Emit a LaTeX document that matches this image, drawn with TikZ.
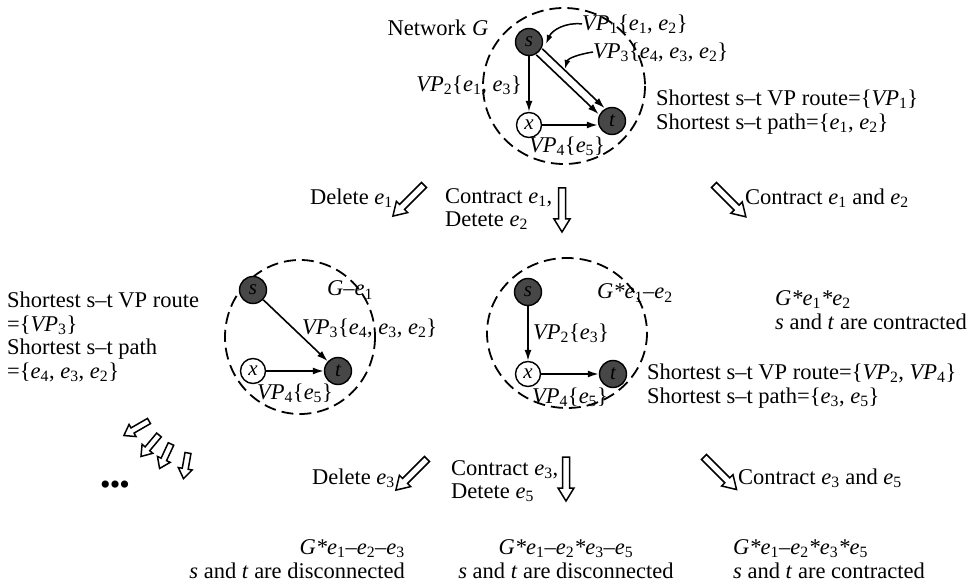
\documentclass[tikz,border=0pt]{standalone}
\usepackage{fontspec}
\setmainfont{Liberation Serif}
\usetikzlibrary{arrows.meta}
\newcommand\ee[1]{\textit{e}\textsubscript{#1}}
\newcommand\VP[1]{\textit{VP}\textsubscript{#1}}
\newcommand\lb{\textbraceleft}
\newcommand\rb{\textbraceright}
\tikzset{
  txt/.style={font=\fontsize{22.5}{23.5}\selectfont, inner sep=0pt},
  vtx/.style={circle, draw, line width=1.4pt, minimum size=25pt, inner sep=0pt, fill=white, font=\fontsize{21}{21}\selectfont\itshape},
  term/.style={vtx, fill=black!72, minimum size=27pt},
  edgearr/.style={line width=1.6pt, -{Latex[length=11pt,width=7pt]}},
  ptr/.style={line width=1.5pt, -{Latex[length=9pt,width=6pt]}},
  ring/.style={line width=1.8pt, dash pattern=on 12pt off 6pt},
  pics/barrow/.style={code={\draw[line width=1.5pt, fill=white] (0,-3.5) -- (#1-13,-3.5) -- (#1-13,-8) -- (#1,0) -- (#1-13,8) -- (#1-13,3.5) -- (0,3.5) -- cycle;}},
  pics/sarrow/.style={code={\draw[line width=1.5pt, fill=white] (0,-3) -- (#1-10,-3) -- (#1-10,-7) -- (#1,0) -- (#1-10,7) -- (#1-10,3) -- (0,3) -- cycle;}}
}
\begin{document}
\begin{tikzpicture}[x=1pt,y=-1pt]
\useasboundingbox (0,0) rectangle (980,585);
% ---------- top graph ----------
\draw[ring] (564,86) ellipse [x radius=81, y radius=78];
\node[term] (s1) at (529,42) {s};
\node[vtx] (x1) at (529,125) {x};
\node[term] (t1) at (612,121) {t};
\draw[edgearr] (s1) -- (x1);
\draw[edgearr] (x1) -- (x1 -| t1.west);
\draw[edgearr, transform canvas={shift={(-3pt,-3pt)}}] (s1) -- (t1);
\draw[edgearr, transform canvas={shift={(3pt,3pt)}}] (s1) -- (t1);
\node[txt] (netG) at (438,28) {Network \textit{G}};
\node[txt, anchor=west] (vp1) at (582,24) {\VP1\lb\ee1, \ee2\rb};
\node[txt, anchor=west] (vp3) at (593,52) {\VP3\lb\ee4, \ee3, \ee2\rb};
\node[txt, anchor=east] (vp2) at (522,85) {\VP2\lb\ee1, \ee3\rb};
\node[txt] (vp4) at (567,146) {\VP4\lb\ee5\rb};
\coordinate (p1) at (546,44);
\coordinate (p3) at (565,69);
\draw[ptr] (vp1.west) .. controls (566,22) and (552,30) .. (p1);
\draw[ptr] (vp3.west) .. controls (580,54) and (568,58) .. (p3);
\node[txt, anchor=west, align=left] (res1) at (656,112) {Shortest s--t VP route=\lb\VP1\rb\\Shortest s--t path=\lb\ee1, \ee2\rb};
% ---------- first operations ----------
\pic[rotate=-135] at (424,185) {barrow=44};
\node[txt, anchor=east] (del1) at (393,198) {Delete \ee1};
\pic[rotate=-90] at (562,188) {barrow=44};
\node[txt, anchor=west, align=left] (con1) at (445,209) {Contract \ee1,\\Detete \ee2};
\pic[rotate=-45] at (714,185) {barrow=45};
\node[txt, anchor=west] (con12) at (745,198) {Contract \ee1 and \ee2};
% ---------- left graph ----------
\node[txt, anchor=west, align=left] (res2) at (7,337) {Shortest s--t VP route\\=\lb\VP3\rb\\Shortest s--t path\\=\lb\ee4, \ee3, \ee2\rb};
\draw[ring] (300,337) ellipse [x radius=75, y radius=77];
\node[term] (s2) at (253,290) {s};
\node[vtx] (x2) at (253,371) {x};
\node[term] (t2) at (338,371) {t};
\draw[edgearr] (s2) -- (t2);
\draw[edgearr] (x2) -- (t2);
\node[txt] (g2) at (350,290) {\textit{G}--\ee1};
\node[txt, anchor=west] (vp3b) at (302,328) {\VP3\lb\ee4, \ee3, \ee2\rb};
\node[txt] (vp4b) at (295,393) {\VP4\lb\ee5\rb};
% ---------- middle graph ----------
\draw[ring] (567,333) ellipse [x radius=80, y radius=75];
\node[term] (s3) at (528,292) {s};
\node[vtx] (x3) at (528,374) {x};
\node[term] (t3) at (613,374) {t};
\draw[edgearr] (s3) -- (x3);
\draw[edgearr] (x3) -- (t3);
\node[txt, anchor=west] (g3) at (597,293) {\textit{G*}\ee1--\ee2};
\node[txt, anchor=west] (vp2c) at (533,333) {\VP2\lb\ee3\rb};
\node[txt] (vp4c) at (570,397) {\VP4\lb\ee5\rb};
\node[txt, anchor=west, align=left] (res3) at (647,386) {Shortest s--t VP route=\lb\VP2, \VP4\rb\\Shortest s--t path=\lb\ee3, \ee5\rb};
% ---------- right result ----------
\node[txt, anchor=west, align=left] (res4) at (775,310) {\textit{G*}\ee1\textit{*}\ee2\\\textit{s} and \textit{t} are contracted};
% ---------- cascade ----------
\pic[rotate=-150] at (149,421) {sarrow=29};
\pic[rotate=-130] at (159,435) {sarrow=28};
\pic[rotate=-115] at (171,444) {sarrow=27};
\pic[rotate=-100] at (188,453) {sarrow=26};
\node[txt, font=\fontsize{30}{30}\selectfont] (dots) at (115,488) {\textbullet\kern-1pt\textbullet\kern-1pt\textbullet};
% ---------- second operations ----------
\pic[rotate=-135] at (427,459) {barrow=44};
\node[txt, anchor=east] (del3) at (395,478) {Delete \ee3};
\pic[rotate=-90] at (566,457) {barrow=44};
\node[txt, anchor=west, align=left] (con3) at (451,481) {Contract \ee3,\\Detete \ee5};
\pic[rotate=-45] at (704,457) {barrow=46};
\node[txt, anchor=west] (con35) at (738,478) {Contract \ee3 and \ee5};
% ---------- bottom results ----------
\node[txt, anchor=east, align=right] (b1) at (405,559) {\textit{G*}\ee1--\ee2--\ee3\\\textit{s} and \textit{t} are disconnected};
\node[txt, align=center] (b2) at (566,559) {\textit{G*}\ee1--\ee2\textit{*}\ee3--\ee5\\\textit{s} and \textit{t} are disconnected};
\node[txt, anchor=west, align=left] (b3) at (733,559) {\textit{G*}\ee1--\ee2\textit{*}\ee3\textit{*}\ee5\\\textit{s} and \textit{t} are contracted};
\end{tikzpicture}
\end{document}
